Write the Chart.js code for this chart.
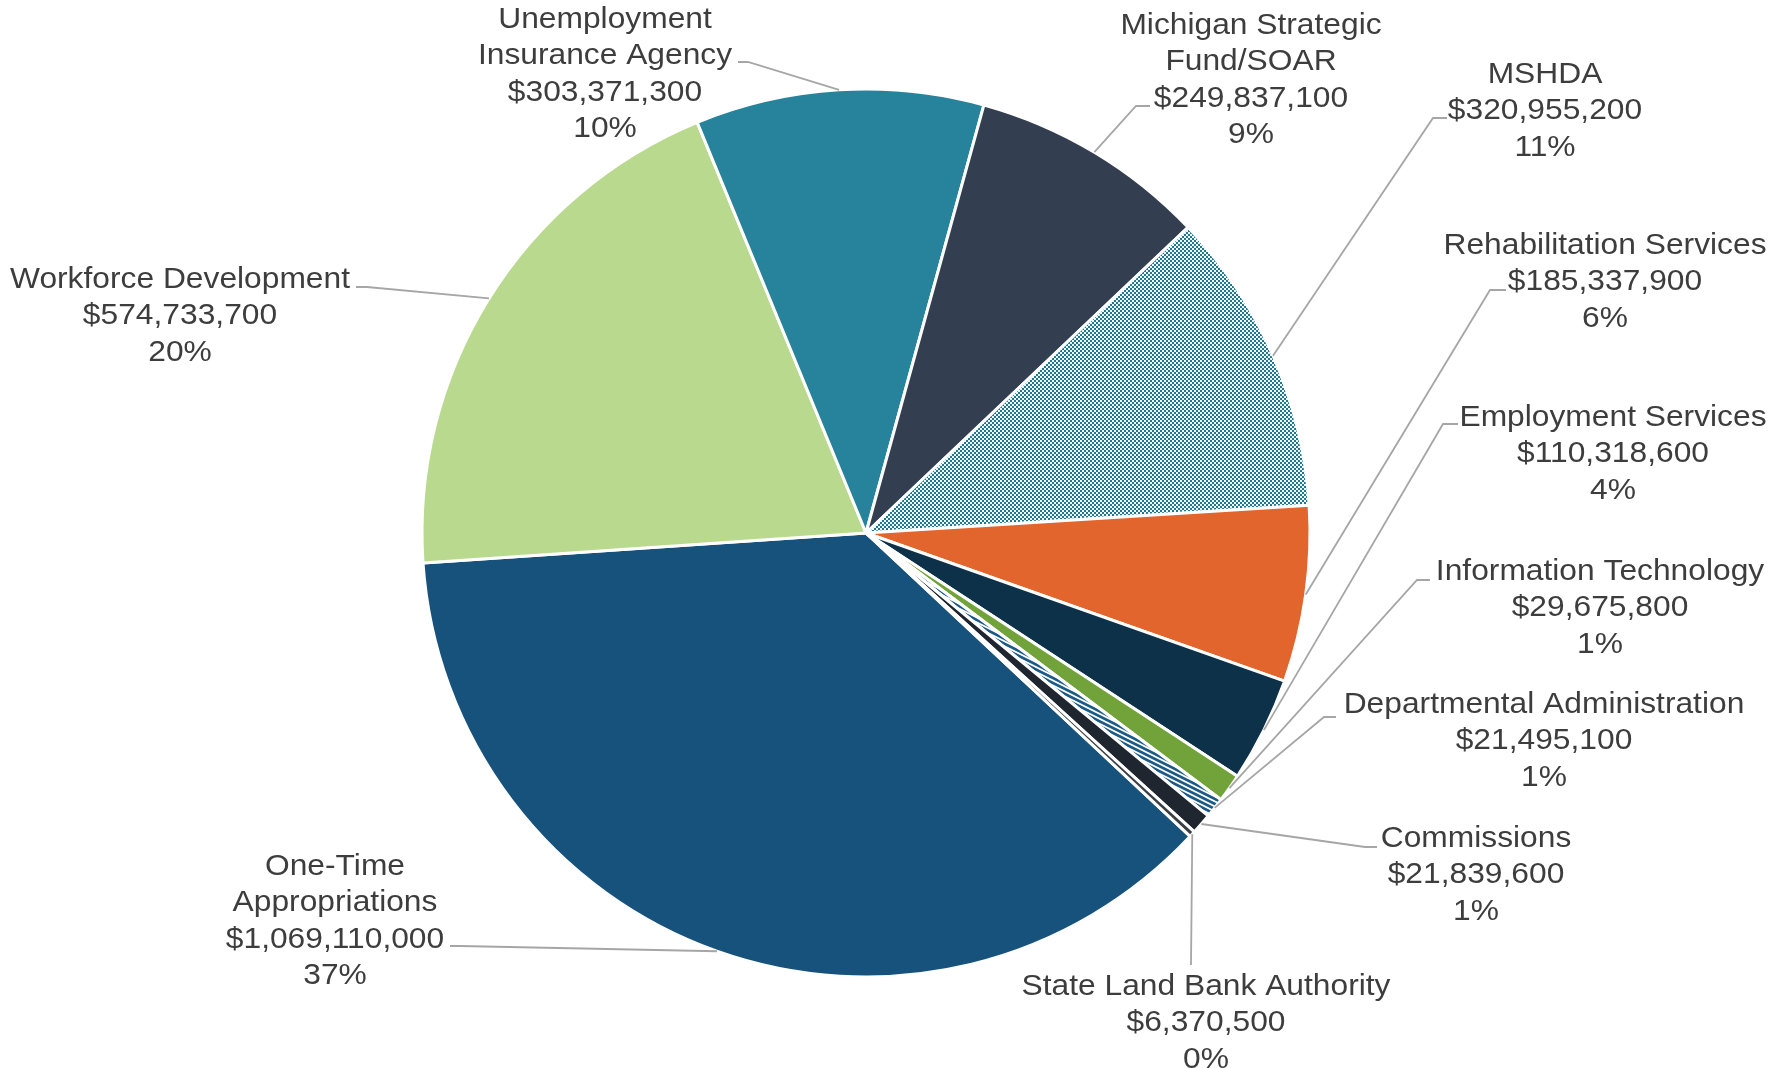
<!DOCTYPE html>
<html>
<head>
<meta charset="utf-8">
<title>Budget by Program</title>
<script src="https://cdn.jsdelivr.net/npm/chart.js@4.4.0/dist/chart.umd.min.js"></script>
<style>
  html, body { margin: 0; padding: 0; background: #ffffff; }
  #wrap { width: 1769px; height: 1068px; }
</style>
</head>
<body>
<div id="wrap"><canvas id="budgetPie" width="1769" height="1068"></canvas></div>
<script>
// program names (one entry per label line), amounts in dollars, clockwise order
const categories = [
  ["One-Time", "Appropriations"],
  ["Workforce Development"],
  ["Unemployment", "Insurance Agency"],
  ["Michigan Strategic", "Fund/SOAR"],
  ["MSHDA"],
  ["Rehabilitation Services"],
  ["Employment Services"],
  ["Information Technology"],
  ["Departmental Administration"],
  ["Commissions"],
  ["State Land Bank Authority"]
];
const amounts = [
  1069110000, 574733700, 303371300, 249837100, 320955200,
  185337900, 110318600, 29675800, 21495100, 21839600, 6370500
];

// where each label block sits: centre x, first line y, leader elbow and end
const labelLayout = [
  { x: 335,  y: 864, elbow: [460, 946],  end: [450, 946] },
  { x: 180,  y: 277, elbow: [367, 287],  end: [356, 287] },
  { x: 605,  y: 17,  elbow: [748, 62],   end: [738, 62] },
  { x: 1251, y: 23,  elbow: [1136, 106], end: [1150, 106] },
  { x: 1545, y: 72,  elbow: [1433, 118], end: [1447, 118] },
  { x: 1605, y: 243, elbow: [1490, 290], end: [1506, 290] },
  { x: 1613, y: 415, elbow: [1443, 424], end: [1458, 424] },
  { x: 1600, y: 569, elbow: [1417, 580], end: [1430, 580] },
  { x: 1544, y: 702, elbow: [1324, 717], end: [1336, 717] },
  { x: 1476, y: 836, elbow: [1365, 847], end: [1377, 847] },
  { x: 1206, y: 984, elbow: [1191, 965], end: [1191, 965] }
];

const canvas = document.getElementById("budgetPie");
const ctx = canvas.getContext("2d");

// small checkerboard, 2px cells
function checkerFill(color) {
  const tile = document.createElement("canvas");
  tile.width = 4;
  tile.height = 4;
  const g = tile.getContext("2d");
  g.fillStyle = color;
  g.fillRect(0, 0, 4, 4);
  g.fillStyle = "#f2f8f9";
  g.fillRect(0, 0, 2, 2);
  g.fillRect(2, 2, 2, 2);
  return ctx.createPattern(tile, "repeat");
}

// wide downward stripes on white
function stripeFill(color) {
  const w = 10, h = 5;
  const tile = document.createElement("canvas");
  tile.width = w;
  tile.height = h;
  const g = tile.getContext("2d");
  g.fillStyle = "#ffffff";
  g.fillRect(0, 0, w, h);
  g.fillStyle = color;
  for (let k = -1; k <= 1; k++) {
    const o = k * h;
    g.beginPath();
    g.moveTo(0, o);
    g.lineTo(w, o + h);
    g.lineTo(w, o + h + 3);
    g.lineTo(0, o + 3);
    g.closePath();
    g.fill();
  }
  return ctx.createPattern(tile, "repeat");
}

const sliceFills = [
  "#16527c",
  "#b8d98e",
  "#26839b",
  "#333f50",
  checkerFill("#1d7890"),
  "#e2652d",
  "#0e314a",
  "#72a33a",
  stripeFill("#1a5a85"),
  "#1f2630",
  "#3a3f46"
];

const total = amounts.reduce((a, b) => a + b, 0);
const money = v => "$" + v.toLocaleString("en-US");
const share = v => Math.round(v / total * 100) + "%";

const LINE_GAP = 36.6;

// leader lines plus name / amount / share text for each slice
const leaderLabels = {
  id: "leaderLabels",
  afterDatasetsDraw(chart) {
    const c = chart.ctx;
    const arcs = chart.getDatasetMeta(0).data;
    c.save();
    arcs.forEach((arc, i) => {
      const pos = labelLayout[i];
      const mid = (arc.startAngle + arc.endAngle) / 2;
      const ex = arc.x + Math.cos(mid) * arc.outerRadius;
      const ey = arc.y + Math.sin(mid) * arc.outerRadius;

      c.strokeStyle = "#a6a6a6";
      c.lineWidth = 1.8;
      c.beginPath();
      c.moveTo(ex, ey);
      c.lineTo(pos.elbow[0], pos.elbow[1]);
      c.lineTo(pos.end[0], pos.end[1]);
      c.stroke();

      const lines = categories[i].concat([money(amounts[i]), share(amounts[i])]);
      c.fillStyle = "#3d3d3d";
      c.font = "29px 'Liberation Sans', Arial, sans-serif";
      c.textAlign = "center";
      c.textBaseline = "alphabetic";
      lines.forEach((txt, j) => {
        c.save();
        c.translate(pos.x, pos.y + j * LINE_GAP + 10.5);
        c.scale(1.095, 1);
        c.fillText(txt, 0, 0);
        c.restore();
      });
    });
    c.restore();
  }
};

new Chart(ctx, {
  type: "pie",
  data: {
    labels: categories.map(c => c.join(" ")),
    datasets: [{
      data: amounts,
      backgroundColor: sliceFills,
      borderColor: "#ffffff",
      borderWidth: 3
    }]
  },
  options: {
    responsive: false,
    animation: false,
    events: [],
    rotation: 133.1,
    radius: 444,
    layout: { padding: { left: 0, right: 37, top: 0, bottom: 2 } },
    plugins: {
      legend: { display: false },
      tooltip: { enabled: false }
    }
  },
  plugins: [leaderLabels]
});
</script>
</body>
</html>
